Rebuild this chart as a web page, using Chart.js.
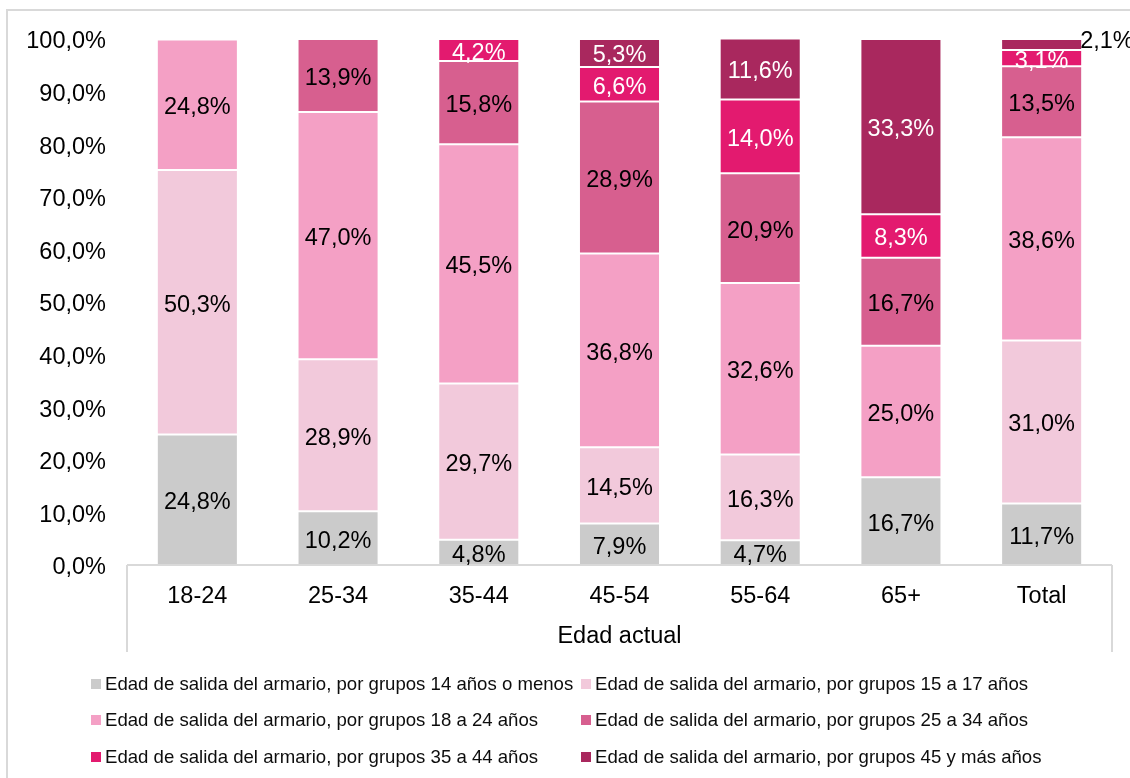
<!DOCTYPE html>
<html><head><meta charset="utf-8">
<script src="https://cdn.jsdelivr.net/npm/chart.js@4.4.1/dist/chart.umd.min.js"></script>
<style>html,body{margin:0;padding:0;background:#fff;}</style>
</head><body>
<canvas id="c" width="1130" height="778"></canvas>
<script>
const categories = ['18-24', '25-34', '35-44', '45-54', '55-64', '65+', 'Total'];
const seriesNames = [
  'Edad de salida del armario, por grupos 14 años o menos',
  'Edad de salida del armario, por grupos 15 a 17 años',
  'Edad de salida del armario, por grupos 18 a 24 años',
  'Edad de salida del armario, por grupos 25 a 34 años',
  'Edad de salida del armario, por grupos 35 a 44 años',
  'Edad de salida del armario, por grupos 45 y más años'
];
const g14orLess = [24.8, 10.2, 4.8, 7.9, 4.7, 16.7, 11.7];
const g15to17   = [50.3, 28.9, 29.7, 14.5, 16.3, null, 31.0];
const g18to24   = [24.8, 47.0, 45.5, 36.8, 32.6, 25.0, 38.6];
const g25to34   = [null, 13.9, 15.8, 28.9, 20.9, 16.7, 13.5];
const g35to44   = [null, null, 4.2, 6.6, 14.0, 8.3, 3.1];
const g45plus   = [null, null, null, 5.3, 11.6, 33.3, 2.1];
const yTickValues = [0, 10, 20, 30, 40, 50, 60, 70, 80, 90, 100];
const axisTitle = 'Edad actual';

const seriesValues = [g14orLess, g15to17, g18to24, g25to34, g35to44, g45plus];
const colors = ['#cbcbcb', '#f2c9db', '#f4a0c5', '#d75f8f', '#e31a6f', '#a9285e'];
const labelColors = ['#000', '#000', '#000', '#000', '#fff', '#fff'];
const FONT = '"Liberation Sans", Arial, sans-serif';
const fmt = v => v.toFixed(1).replace('.', ',') + '%';

const decorPlugin = {
  id: 'decor',
  beforeDraw(chart) {
    const ctx = chart.ctx;
    ctx.save();
    ctx.fillStyle = '#fff';
    ctx.fillRect(0, 0, chart.width, chart.height);
    ctx.strokeStyle = '#d9d9d9';
    ctx.lineWidth = 2;
    ctx.strokeRect(7, 10, 1400, 1000);
    ctx.restore();
  },
  afterDatasetsDraw(chart) {
    const ctx = chart.ctx;
    const ca = chart.chartArea;
    ctx.save();
    // category axis box
    ctx.strokeStyle = '#d9d9d9';
    ctx.lineWidth = 2;
    ctx.beginPath();
    ctx.moveTo(ca.left, ca.bottom); ctx.lineTo(ca.left, ca.bottom + 87);
    ctx.moveTo(ca.right, ca.bottom); ctx.lineTo(ca.right, ca.bottom + 87);
    ctx.moveTo(ca.left, ca.bottom); ctx.lineTo(ca.right, ca.bottom);
    ctx.stroke();
    // data labels
    ctx.font = '23.5px ' + FONT;
    ctx.textBaseline = 'middle';
    chart.data.datasets.forEach((ds, i) => {
      const meta = chart.getDatasetMeta(i);
      meta.data.forEach((el, j) => {
        const v = ds.data[j];
        if (v === null || v === undefined) return;
        const top = Math.min(el.y, el.base), bot = Math.max(el.y, el.base);
        const h = bot - top;
        if (h < 14) {
          ctx.fillStyle = '#000';
          ctx.textAlign = 'left';
          ctx.fillText(fmt(v), el.x + el.width / 2 - 2, top + 3);
        } else {
          ctx.fillStyle = labelColors[i];
          ctx.textAlign = 'center';
          ctx.fillText(fmt(v), el.x, (top + bot) / 2 + 3);
        }
      });
    });
    // legend
    ctx.font = '18.6px ' + FONT;
    ctx.textAlign = 'left';
    ctx.textBaseline = 'middle';
    const colX = [91, 581];
    const rowY = [684, 720, 757];
    seriesNames.forEach((name, i) => {
      const x = colX[i % 2], y = rowY[Math.floor(i / 2)];
      ctx.fillStyle = colors[i];
      ctx.fillRect(x, y - 5, 10, 10);
      ctx.fillStyle = '#0d0d0d';
      ctx.fillText(name, x + 14, y + 1);
    });
    ctx.restore();
  }
};

new Chart(document.getElementById('c'), {
  type: 'bar',
  data: {
    labels: categories,
    datasets: seriesValues.map((vals, i) => ({
      label: seriesNames[i],
      data: vals,
      backgroundColor: colors[i],
      borderColor: 'rgba(255,255,255,0.3)',
      borderWidth: 1,
      borderSkipped: false,
      barPercentage: 0.576,
      categoryPercentage: 1
    }))
  },
  options: {
    responsive: false,
    animation: false,
    layout: { padding: { top: 39, bottom: 124, right: 18, left: 0 } },
    plugins: { legend: { display: false }, tooltip: { enabled: false } },
    scales: {
      x: {
        stacked: true,
        grid: { display: false, drawTicks: false },
        border: { display: false },
        ticks: { color: '#000', font: { family: FONT, size: 23.5 }, padding: 17, maxRotation: 0 },
        title: { display: true, text: axisTitle, color: '#000', font: { family: FONT, size: 23.5 }, padding: { top: 0, bottom: 3 } },
        afterFit(s) { s.height = 89; }
      },
      y: {
        stacked: true,
        min: 0, max: 100,
        afterBuildTicks(s) { s.ticks = yTickValues.map(v => ({ value: v })); },
        grid: { display: false, drawTicks: false },
        border: { display: false },
        ticks: { color: '#000', font: { family: FONT, size: 23.5 }, padding: 21, labelOffset: 3, callback: v => fmt(v) },
        afterFit(s) { s.width = 127; }
      }
    }
  },
  plugins: [decorPlugin]
});
</script>
</body></html>
